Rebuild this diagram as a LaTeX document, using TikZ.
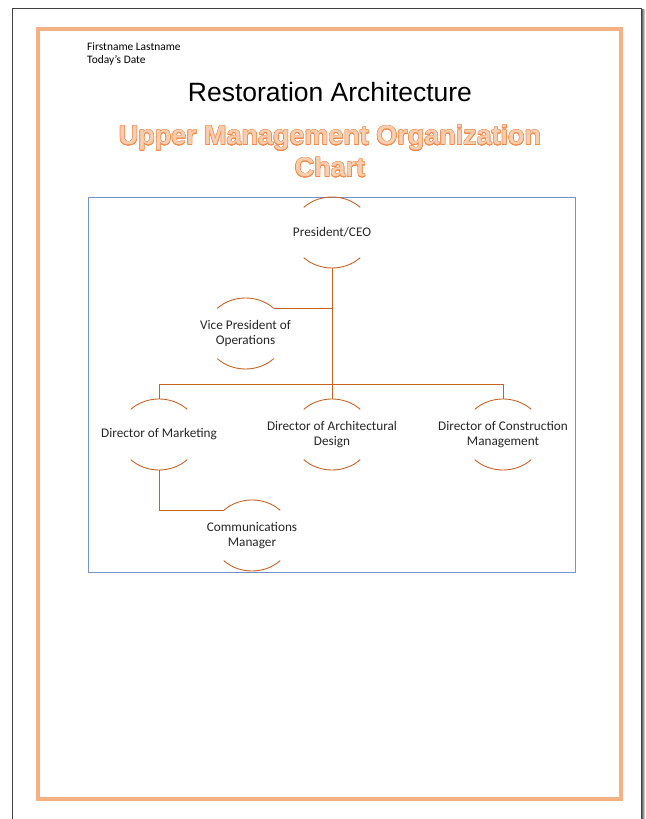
\documentclass[tikz,border=0pt]{standalone}
\usepackage{fontspec}
\setmainfont{Carlito}
\newfontfamily\arialfont{Liberation Sans}
\usepackage{contour}
\usetikzlibrary{calc,positioning}
\definecolor{frameorange}{RGB}{244,177,131}
\definecolor{titleline}{RGB}{240,138,75}
\definecolor{titlefill}{RGB}{249,206,176}
\definecolor{chartblue}{RGB}{114,147,207}
\definecolor{rust}{RGB}{200,98,36}
\contourlength{0.4pt}
\tikzset{
  hcnode/.style={rectangle,minimum width=2.4cm,minimum height=2.13cm,inner sep=0pt,
    align=center,text=black!85,font=\fontsize{11.3}{12.8}\selectfont},
  hcarc/.style={draw=rust,line width=0.75pt},
  link/.style={draw=rust,line width=0.75pt}
}

\begin{document}
\begin{tikzpicture}[x=0.03cm,y=0.03cm]
        \useasboundingbox (0,0) rectangle (645,819);
        \shade[left color=black!75,right color=black!5] (641,-2) rectangle (645,809);
        \draw[black!75,line width=0.8pt] (12,-2) -- (12,811) -- (641,811) -- (641,-2);
        \draw[frameorange,line width=3pt] (38,20) rectangle (621,790);
        \node[anchor=base west,inner sep=0pt,font=\fontsize{9.75}{11.9}\selectfont] (author) at (87,768.5) {Firstname Lastname};
        \node[anchor=base west,inner sep=0pt,font=\fontsize{9.75}{11.9}\selectfont] (date) at (87,755) {Today’s Date};
        \node[anchor=base,inner sep=0pt,font=\arialfont\fontsize{22.6}{27}\selectfont] (firm) at (330,717) {Restoration Architecture};
        \node[anchor=base,inner sep=0pt,text=titlefill,font=\arialfont\bfseries\fontsize{23}{27.5}\selectfont] (heading) at (330,674) {\contour{titleline}{Upper Management Organization}};
        \node[anchor=base,inner sep=0pt,text=titlefill,font=\arialfont\bfseries\fontsize{23}{27.5}\selectfont] (headingb) at (330,642) {\contour{titleline}{Chart}};
        \draw[chartblue,line width=0.8pt] (88,247) rectangle (575,622);
        \node[hcnode] (ceo) at (332,586.5) {President/CEO};
        \node[hcnode] (vp) at (245.5,485.5) {Vice President of\\Operations};
        \node[hcnode] (mkt) at (159,384.5) {Director of Marketing};
        \node[hcnode] (arch) at (332,384.5) {Director of Architectural\\Design};
        \node[hcnode] (cons) at (503,384.5) {Director of Construction\\Management};
        \node[hcnode] (comm) at (252,283.5) {Communications\\Manager};
        \foreach \n in {ceo,vp,mkt,arch,cons,comm}{
          \draw[hcarc] ([shift={(45:1.2cm and 1.065cm)}]\n.center) arc[start angle=45,end angle=135,x radius=1.2cm,y radius=1.065cm];
          \draw[hcarc] ([shift={(225:1.2cm and 1.065cm)}]\n.center) arc[start angle=225,end angle=315,x radius=1.2cm,y radius=1.065cm];
        }
        \coordinate (bus) at (332,435);
        \coordinate (vpjoin) at ([shift={(45:1.2cm and 1.065cm)}]vp.center);
        \coordinate (commjoin) at ([shift={(135:1.2cm and 1.065cm)}]comm.center);
        \draw[link] (ceo.south) -- (bus);
        \draw[link] (vpjoin) -- (vpjoin -| ceo.south);
        \draw[link] (mkt.north) -- (mkt.north |- bus) -- (cons.north |- bus) -- (cons.north);
        \draw[link] (bus) -- (arch.north);
        \draw[link] (mkt.south) |- (commjoin);
      \end{tikzpicture}
\end{document}
